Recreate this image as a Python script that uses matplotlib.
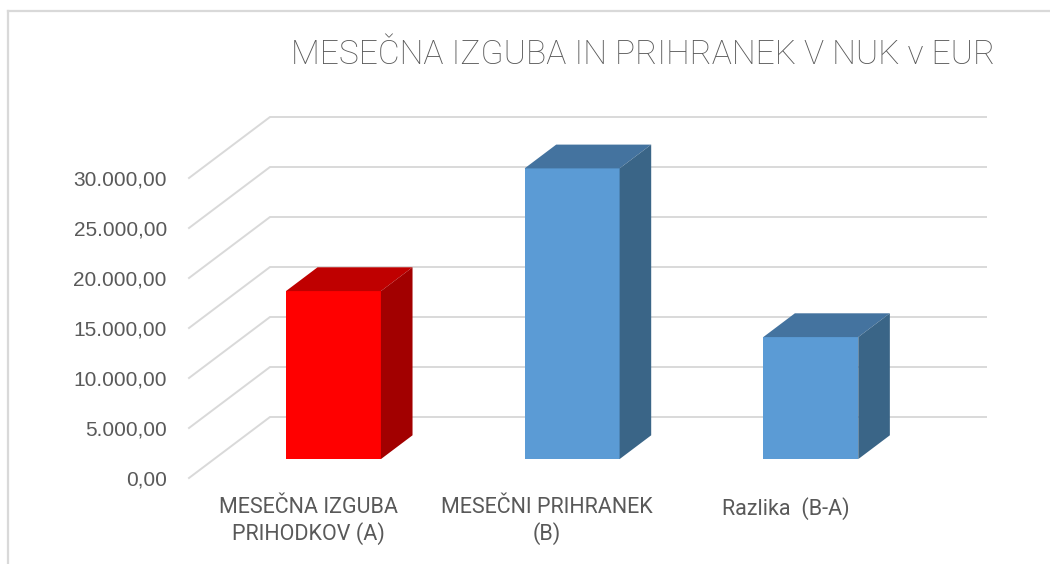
import matplotlib
matplotlib.use("Agg")
import matplotlib.pyplot as plt
from matplotlib.patches import Polygon
from matplotlib.lines import Line2D

# ---- data ----
categories = ["MESEČNA IZGUBA\nPRIHODKOV (A)", "MESEČNI PRIHRANEK\n(B)", "Razlika  (B-A)"]
values = [16800, 29070, 12200]
y_ticks = [0, 5000, 10000, 15000, 20000, 25000, 30000]
title = "MESEČNA IZGUBA IN PRIHRANEK V NUK v EUR"

front_colors = ["#FF0000", "#5B9BD5", "#5B9BD5"]
top_colors = ["#BF0000", "#44739F", "#44739F"]
side_colors = ["#A20000", "#3A6587", "#3A6587"]

W, H = 1050, 564
fig = plt.figure(figsize=(W / 100, H / 100), dpi=100)
fig.patch.set_facecolor("white")

ax = fig.add_axes([189 / W, (H - 478) / H, 716 / W, 300 / H])
ax.set_xlim(-0.5, 2.5)
ax.set_ylim(0, 30000)
for s in ax.spines.values():
    s.set_visible(False)
ax.patch.set_alpha(0)

# depth vector of the pseudo-3D box (full depth)
DX = 81 / 238.67
DY = 6100
d0, d1 = 0.31, 0.70
dd = d1 - d0
bar_w = 0.398

grid_c = "#D9D9D9"
for v in y_ticks:
    ax.plot([-0.5, -0.5 + DX, 2.5 + DX], [v, v + DY, v + DY], color=grid_c,
            lw=1.4, clip_on=False, zorder=1, solid_joinstyle="miter")

xs = list(range(len(categories)))
bottom = d0 * DY
bars = ax.bar([x + d0 * DX for x in xs], values, width=bar_w, bottom=bottom,
              color=front_colors, zorder=3, clip_on=False, linewidth=0)
for i, b in enumerate(bars):
    xl = b.get_x()
    xr = xl + b.get_width()
    top = bottom + values[i]
    ox, oy = dd * DX, dd * DY
    top_face = Polygon([(xl, top), (xr, top), (xr + ox, top + oy), (xl + ox, top + oy)],
                       closed=True, facecolor=top_colors[i], edgecolor="none",
                       zorder=3, clip_on=False)
    side_face = Polygon([(xr, bottom), (xr + ox, bottom + oy), (xr + ox, top + oy), (xr, top)],
                        closed=True, facecolor=side_colors[i], edgecolor="none",
                        zorder=3, clip_on=False)
    ax.add_patch(top_face)
    ax.add_patch(side_face)

txt_c = "#595959"
def fmt(v):
    s = f"{v:,.2f}"
    return s.replace(",", "X").replace(".", ",").replace("X", ".")

ax.set_yticks(y_ticks)
ax.set_yticklabels([fmt(v) for v in y_ticks], fontsize=15, color=txt_c,
                   family=["Liberation Sans", "DejaVu Sans"])
ax.set_xticks(xs)
ax.set_xticklabels(categories, fontsize=15.5, color=txt_c, linespacing=1.2,
                   family=["Roboto", "DejaVu Sans"])
ax.tick_params(axis="y", length=0, pad=16)
ax.tick_params(axis="x", length=0, pad=14)

fig.text(643 / W, 1 - 55 / H, title, ha="center", va="center", fontsize=24.2,
         color=txt_c, family=["Roboto", "DejaVu Sans"], fontweight="light")

# chart border (top and left visible)
fig.add_artist(Line2D([8 / W, 1], [1 - 11 / H, 1 - 11 / H], transform=fig.transFigure,
                      color=grid_c, lw=1.6))
fig.add_artist(Line2D([8 / W, 8 / W], [1 - 11 / H, 0], transform=fig.transFigure,
                      color=grid_c, lw=1.6))

fig.savefig("out.png", dpi=100, facecolor="white")
